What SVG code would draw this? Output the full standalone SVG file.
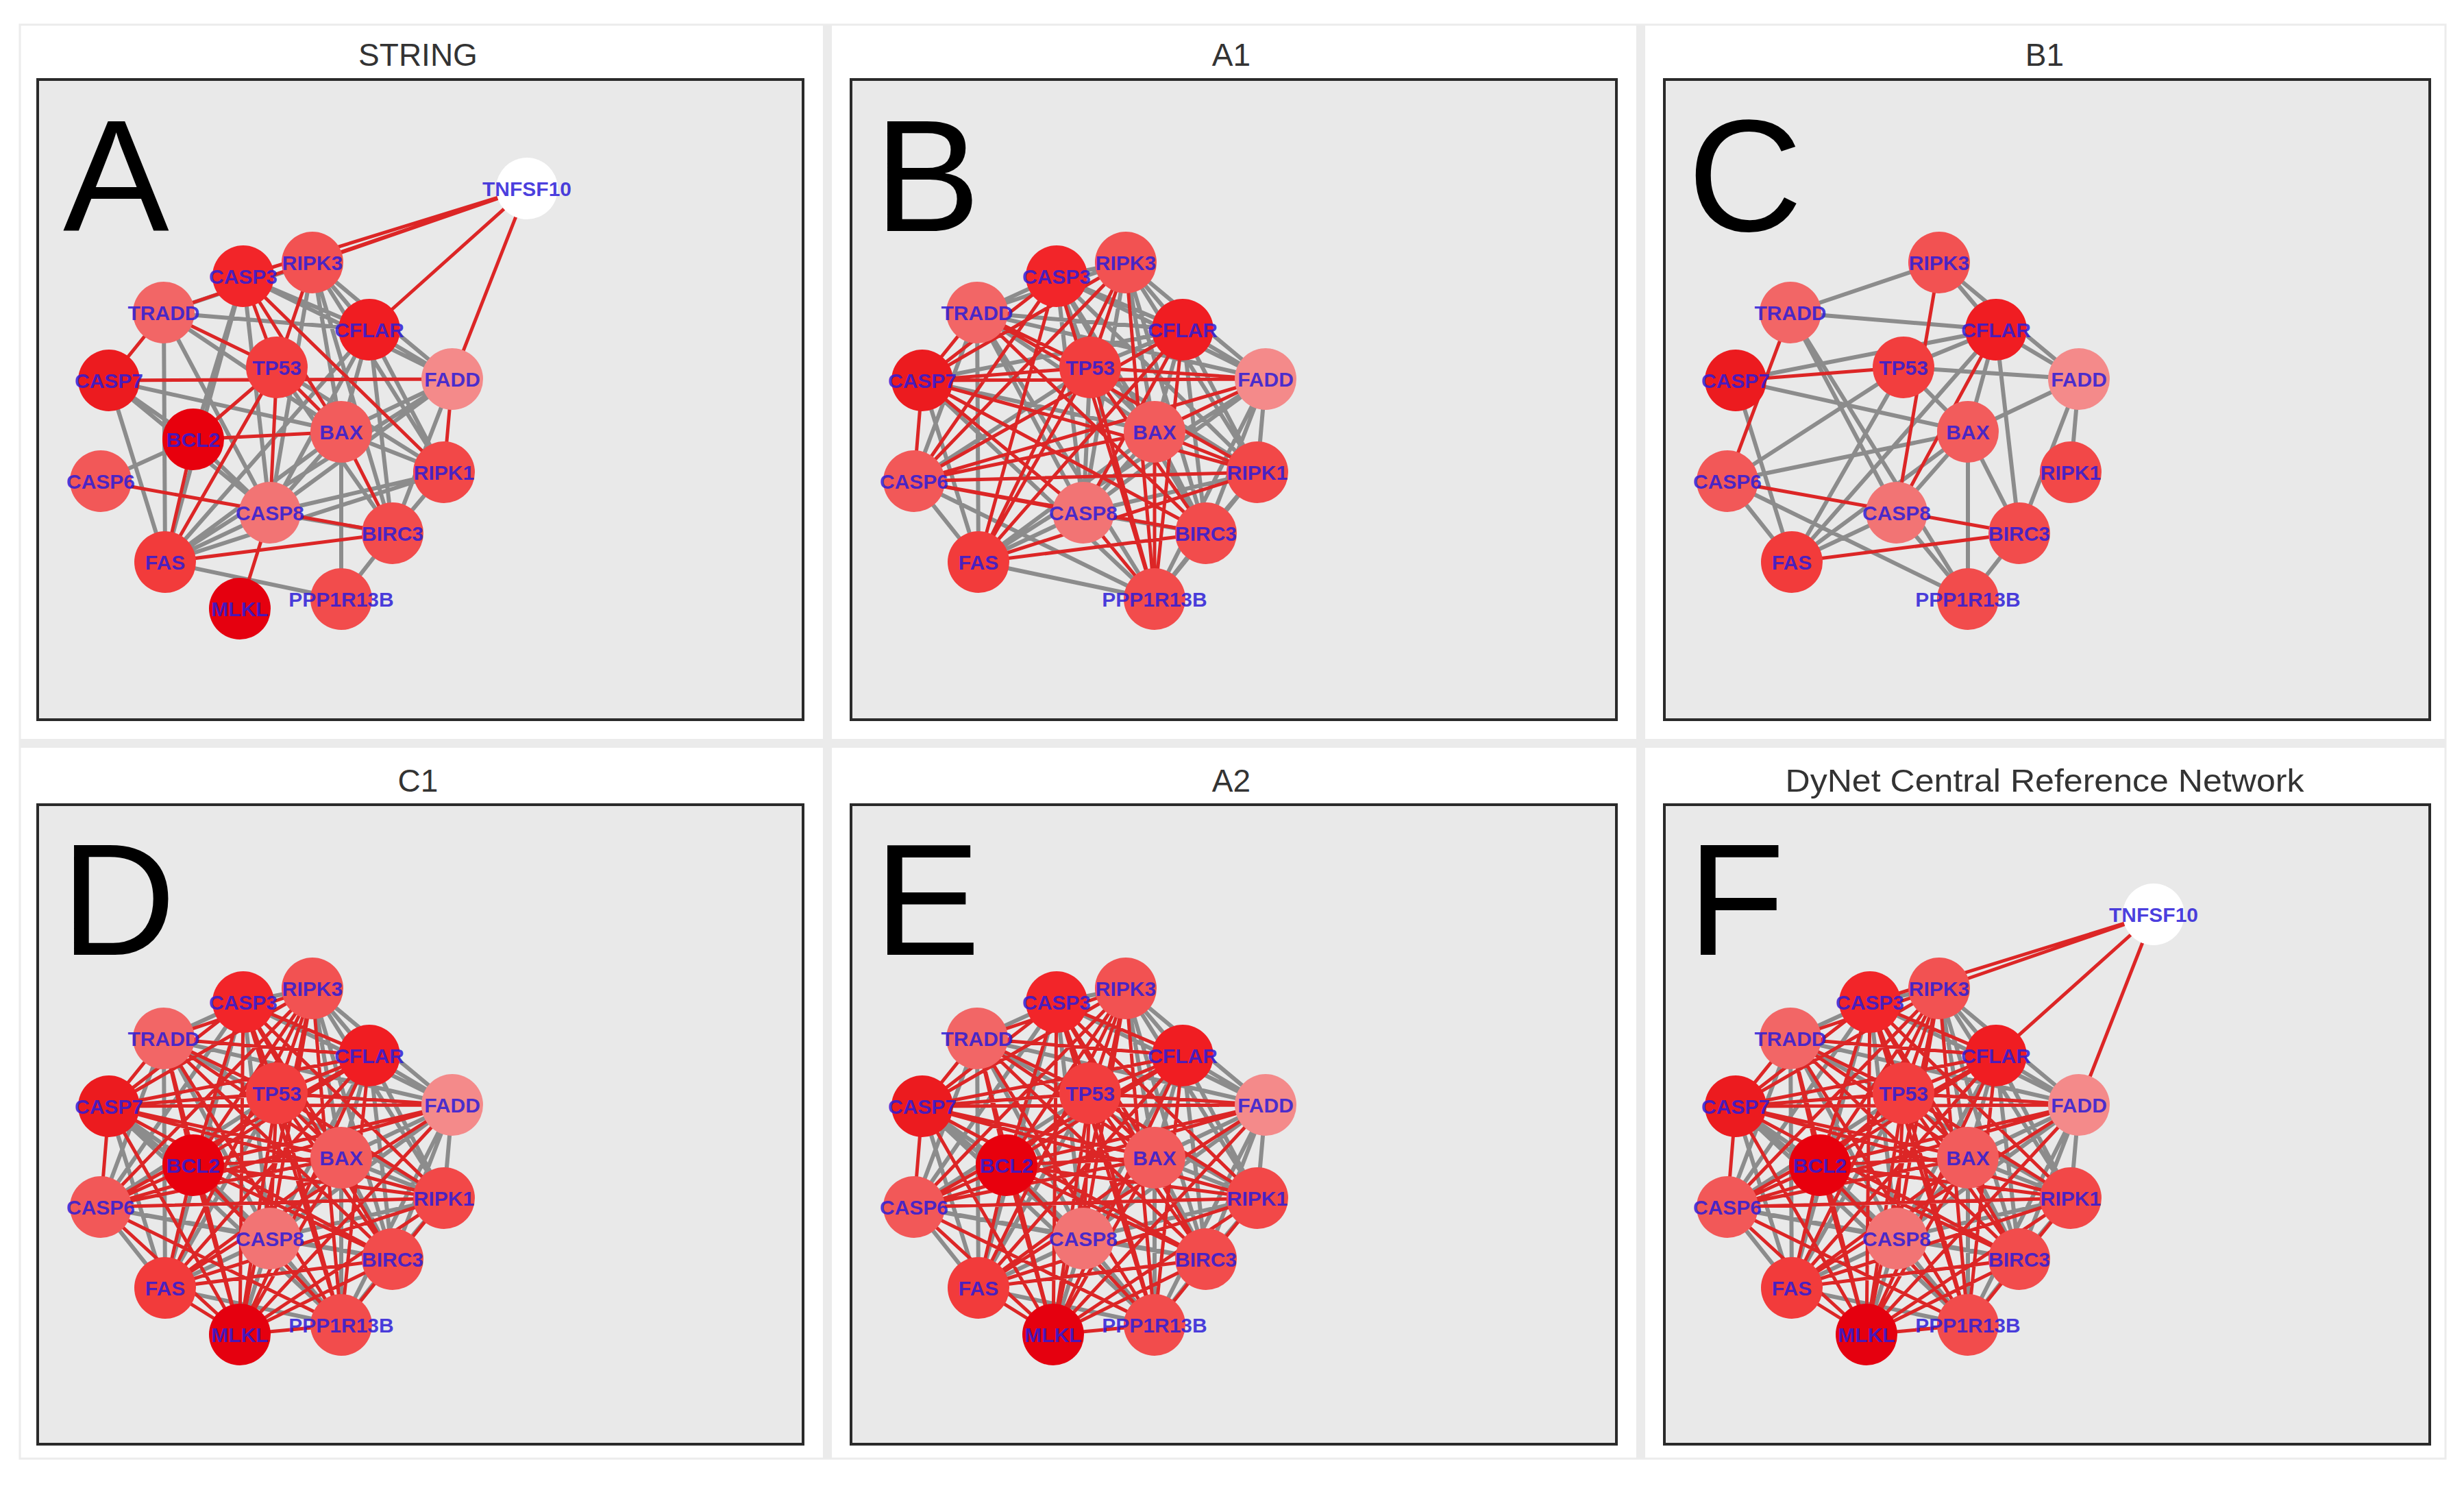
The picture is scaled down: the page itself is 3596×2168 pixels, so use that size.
<svg xmlns="http://www.w3.org/2000/svg" xmlns:xlink="http://www.w3.org/1999/xlink" width="3596" height="2168" viewBox="0 0 3596 2168">
<style>
.g{fill:none;stroke:#8c8c8c;stroke-width:6;stroke-linecap:round}
.r{fill:none;stroke:#dc2626;stroke-width:5;stroke-linecap:round}
.frame{fill:#e9e9e9;stroke:#2a2a2a;stroke-width:4}
.title{font-family:"Liberation Sans",Arial,sans-serif;font-size:46px;fill:#333;text-anchor:middle}
.big{font-family:"Liberation Sans",Arial,sans-serif;font-size:232px;fill:#000}
.lbl circle{r:45px}
.lbl text{font-family:"Liberation Sans",Arial,sans-serif;font-size:30px;font-weight:bold;fill:#2c1cd8;fill-opacity:.85;text-anchor:middle}
.tn{fill:#ffffff}.c3{fill:#f22529}.r3{fill:#f25252}.tr{fill:#f26666}.cf{fill:#f01d22}.p53{fill:#f23e3e}.c7{fill:#ec1b1f}.fa{fill:#f48a8a}.bc{fill:#e8000d}.bx{fill:#f25c5c}.c6{fill:#f25858}.r1{fill:#f24848}.c8{fill:#f27474}.bi{fill:#f24c4c}.fs{fill:#f23b3b}.ml{fill:#e5000f}.pp{fill:#f24c4c}
</style>
<defs>
<g id="dense-edges">
<path class="g" d="M355 403L456 383M355 403L239 456M355 403L660 553M355 403L147 702M355 403L394 748M355 403L241 820M456 383L539 481M456 383L660 553M456 383L498 630M456 383L648 689M456 383L573 778M239 456L660 553M239 456L147 702M239 456L648 689M239 456L394 748M239 456L241 820M539 481L660 553M539 481L498 630M539 481L648 689M539 481L394 748M539 481L573 778M404 536L147 702M404 536L241 820M159 555L394 748M159 555L241 820M159 555L498 874M660 553L498 630M660 553L648 689M660 553L394 748M660 553L573 778M660 553L498 874M498 630L648 689M498 630L394 748M498 630L573 778M498 630L498 874M147 702L394 748M147 702L573 778M147 702L241 820M648 689L394 748M648 689L573 778M394 748L573 778M394 748L241 820M394 748L498 874M573 778L498 874M241 820L498 874M282 641L159 555M282 641L394 748M350 888L394 748"/>
<path class="r" d="M355 403L539 481M355 403L404 536M355 403L159 555M355 403L498 630M355 403L648 689M355 403L573 778M355 403L498 874M456 383L239 456M456 383L404 536M456 383L159 555M456 383L147 702M456 383L394 748M456 383L241 820M456 383L498 874M239 456L539 481M239 456L404 536M239 456L159 555M239 456L498 630M239 456L573 778M239 456L498 874M539 481L404 536M539 481L159 555M539 481L147 702M539 481L241 820M539 481L498 874M404 536L159 555M404 536L660 553M404 536L498 630M404 536L648 689M404 536L394 748M404 536L573 778M404 536L498 874M159 555L660 553M159 555L498 630M159 555L147 702M159 555L648 689M159 555L573 778M660 553L147 702M660 553L241 820M498 630L147 702M498 630L241 820M147 702L648 689M147 702L498 874M648 689L241 820M648 689L498 874M573 778L241 820M282 641L355 403M282 641L456 383M282 641L239 456M282 641L539 481M282 641L404 536M282 641L660 553M282 641L498 630M282 641L147 702M282 641L648 689M282 641L573 778M282 641L241 820M282 641L498 874M282 641L350 888M350 888L355 403M350 888L456 383M350 888L239 456M350 888L539 481M350 888L404 536M350 888L159 555M350 888L660 553M350 888L498 630M350 888L147 702M350 888L648 689M350 888L573 778M350 888L241 820M350 888L498 874"/>
</g>
</defs>
<rect width="3596" height="2168" fill="#ffffff"/>
<g id="chrome">
<rect x="29" y="36" width="3540" height="2092" fill="none" stroke="#ececec" stroke-width="3"/>
<rect x="1201" y="36" width="13" height="2092" fill="#ebebeb"/>
<rect x="2388" y="36" width="13" height="2092" fill="#ebebeb"/>
<rect x="29" y="1078" width="3540" height="13" fill="#ebebeb"/>
<rect class="frame" x="55" y="116" width="1117" height="934"/>
<rect class="frame" x="1242" y="116" width="1117" height="934"/>
<rect class="frame" x="2429" y="116" width="1117" height="934"/>
<rect class="frame" x="55" y="1174" width="1117" height="933"/>
<rect class="frame" x="1242" y="1174" width="1117" height="933"/>
<rect class="frame" x="2429" y="1174" width="1117" height="933"/>
<text class="title" x="610" y="96">STRING</text>
<text class="title" x="1797" y="96">A1</text>
<text class="title" x="2984" y="96">B1</text>
<text class="title" x="610" y="1155">C1</text>
<text class="title" x="1797" y="1155">A2</text>
<text class="title" x="2984" y="1155" textLength="757" lengthAdjust="spacingAndGlyphs">DyNet Central Reference Network</text>
<text class="big" x="92" y="337">A</text>
<text class="big" x="1276" y="337">B</text>
<text class="big" x="2463" y="337">C</text>
<text class="big" x="89" y="1393">D</text>
<text class="big" x="1276" y="1393">E</text>
<text class="big" x="2463" y="1393">F</text>
</g>
<g id="connectors">
<g id="edges-A">
<path class="g" d="M239 456L456 383M239 456L539 481M239 456L394 748M239 456L241 820M239 456L498 630M159 555L282 641M159 555L498 630M159 555L394 748M159 555L241 820M147 702L282 641M355 403L539 481M355 403L660 553M355 403L394 748M355 403L241 820M355 403L282 641M456 383L539 481M456 383L660 553M456 383L498 630M456 383L648 689M456 383L573 778M456 383L394 748M539 481L660 553M539 481L648 689M539 481L573 778M539 481L498 630M539 481L394 748M539 481L241 820M660 553L498 630M660 553L394 748M660 553L241 820M660 553L573 778M498 630L394 748M498 630L498 874M498 630L241 820M498 630L648 689M648 689L394 748M648 689L241 820M648 689L573 778M394 748L241 820M394 748L573 778M394 748L282 641M573 778L498 874M241 820L498 874M404 536L573 778M404 536L648 689"/>
<path class="r" d="M769 275L456 383M769 275L355 403M769 275L239 456M769 275L539 481M769 275L660 553M239 456L159 555M239 456L404 536M404 536L498 630M159 555L660 553M355 403L404 536M355 403L498 630M355 403L648 689M456 383L404 536M404 536L282 641M404 536L241 820M404 536L394 748M282 641L498 630M282 641L241 820M498 630L573 778M147 702L573 778M241 820L573 778M394 748L350 888M660 553L648 689"/>
</g>
<g id="edges-B" transform="translate(1187,0)">
<path class="g" d="M355 403L456 383M355 403L239 456M355 403L539 481M355 403L404 536M355 403L660 553M355 403L498 630M355 403L648 689M355 403L394 748M355 403L573 778M456 383L239 456M456 383L539 481M456 383L660 553M456 383L498 630M456 383L648 689M456 383L394 748M456 383L573 778M239 456L539 481M239 456L660 553M239 456L498 630M239 456L147 702M239 456L394 748M239 456L241 820M239 456L498 874M539 481L404 536M539 481L159 555M539 481L660 553M539 481L498 630M539 481L648 689M539 481L573 778M404 536L498 630M404 536L147 702M404 536L648 689M404 536L394 748M159 555L498 630M159 555L241 820M159 555L498 874M660 553L648 689M660 553L394 748M660 553L573 778M660 553L241 820M660 553L498 874M498 630L394 748M498 630L573 778M498 630L241 820M147 702L241 820M147 702L498 874M648 689L394 748M648 689L573 778M648 689L498 874M394 748L573 778M394 748L241 820M573 778L498 874M241 820L498 874"/>
<path class="r" d="M355 403L159 555M355 403L147 702M355 403L241 820M355 403L498 874M456 383L404 536M456 383L159 555M456 383L147 702M456 383L241 820M456 383L498 874M239 456L404 536M239 456L159 555M239 456L648 689M239 456L573 778M539 481L147 702M539 481L394 748M539 481L241 820M539 481L498 874M404 536L159 555M404 536L660 553M404 536L573 778M404 536L241 820M404 536L498 874M159 555L660 553M159 555L147 702M159 555L648 689M159 555L394 748M159 555L573 778M660 553L498 630M660 553L147 702M498 630L147 702M498 630L648 689M498 630L498 874M147 702L648 689M147 702L394 748M147 702L573 778M648 689L241 820M394 748L498 874M573 778L241 820"/>
</g>
<g id="edges-C" transform="translate(2374,0)">
<path class="g" d="M456 383L239 456M456 383L539 481M456 383L660 553M239 456L539 481M239 456L394 748M239 456L498 874M159 555L539 481M159 555L498 630M159 555L241 820M147 702L404 536M147 702L498 630M147 702L241 820M147 702L498 874M241 820L404 536M241 820L498 630M241 820L539 481M241 820L394 748M404 536L539 481M404 536L498 630M404 536L660 553M539 481L660 553M539 481L573 778M539 481L498 630M660 553L498 630M660 553L648 689M660 553L573 778M498 630L573 778M498 630L498 874M498 630L394 748M394 748L498 874M573 778L498 874"/>
<path class="r" d="M456 383L394 748M239 456L147 702M159 555L404 536M147 702L573 778M241 820L573 778M539 481L394 748"/>
</g>
<use id="edges-D" xlink:href="#dense-edges" href="#dense-edges" transform="translate(0,1059)"/>
<use id="edges-E" xlink:href="#dense-edges" href="#dense-edges" transform="translate(1187,1059)"/>
<g id="edges-F" transform="translate(2374,1059)">
<use xlink:href="#dense-edges" href="#dense-edges"/>
<path class="r" d="M769 275L456 383M769 275L355 403M769 275L539 481M769 275L660 553"/>
</g>
</g>
<g id="nodes-A" class="lbl">
<g id="A-TNFSF10"><circle class="tn" cx="769" cy="275" r="45"/><text x="769" y="286">TNFSF10</text></g>
<g id="A-CASP3"><circle class="c3" cx="355" cy="403" r="45"/><text x="355" y="414">CASP3</text></g>
<g id="A-RIPK3"><circle class="r3" cx="456" cy="383" r="45"/><text x="456" y="394">RIPK3</text></g>
<g id="A-TRADD"><circle class="tr" cx="239" cy="456" r="45"/><text x="239" y="467">TRADD</text></g>
<g id="A-CFLAR"><circle class="cf" cx="539" cy="481" r="45"/><text x="539" y="492">CFLAR</text></g>
<g id="A-TP53"><circle class="p53" cx="404" cy="536" r="45"/><text x="404" y="547">TP53</text></g>
<g id="A-CASP7"><circle class="c7" cx="159" cy="555" r="45"/><text x="159" y="566">CASP7</text></g>
<g id="A-FADD"><circle class="fa" cx="660" cy="553" r="45"/><text x="660" y="564">FADD</text></g>
<g id="A-BCL2"><circle class="bc" cx="282" cy="641" r="45"/><text x="282" y="652">BCL2</text></g>
<g id="A-BAX"><circle class="bx" cx="498" cy="630" r="45"/><text x="498" y="641">BAX</text></g>
<g id="A-CASP6"><circle class="c6" cx="147" cy="702" r="45"/><text x="147" y="713">CASP6</text></g>
<g id="A-RIPK1"><circle class="r1" cx="648" cy="689" r="45"/><text x="648" y="700">RIPK1</text></g>
<g id="A-CASP8"><circle class="c8" cx="394" cy="748" r="45"/><text x="394" y="759">CASP8</text></g>
<g id="A-BIRC3"><circle class="bi" cx="573" cy="778" r="45"/><text x="573" y="789">BIRC3</text></g>
<g id="A-FAS"><circle class="fs" cx="241" cy="820" r="45"/><text x="241" y="831">FAS</text></g>
<g id="A-MLKL"><circle class="ml" cx="350" cy="888" r="45"/><text x="350" y="899">MLKL</text></g>
<g id="A-PPP1R13B"><circle class="pp" cx="498" cy="874" r="45"/><text x="498" y="885">PPP1R13B</text></g>
</g>
<g id="nodes-B" class="lbl" transform="translate(1187,0)">
<g id="B-CASP3"><circle class="c3" cx="355" cy="403" r="45"/><text x="355" y="414">CASP3</text></g>
<g id="B-RIPK3"><circle class="r3" cx="456" cy="383" r="45"/><text x="456" y="394">RIPK3</text></g>
<g id="B-TRADD"><circle class="tr" cx="239" cy="456" r="45"/><text x="239" y="467">TRADD</text></g>
<g id="B-CFLAR"><circle class="cf" cx="539" cy="481" r="45"/><text x="539" y="492">CFLAR</text></g>
<g id="B-TP53"><circle class="p53" cx="404" cy="536" r="45"/><text x="404" y="547">TP53</text></g>
<g id="B-CASP7"><circle class="c7" cx="159" cy="555" r="45"/><text x="159" y="566">CASP7</text></g>
<g id="B-FADD"><circle class="fa" cx="660" cy="553" r="45"/><text x="660" y="564">FADD</text></g>
<g id="B-BAX"><circle class="bx" cx="498" cy="630" r="45"/><text x="498" y="641">BAX</text></g>
<g id="B-CASP6"><circle class="c6" cx="147" cy="702" r="45"/><text x="147" y="713">CASP6</text></g>
<g id="B-RIPK1"><circle class="r1" cx="648" cy="689" r="45"/><text x="648" y="700">RIPK1</text></g>
<g id="B-CASP8"><circle class="c8" cx="394" cy="748" r="45"/><text x="394" y="759">CASP8</text></g>
<g id="B-BIRC3"><circle class="bi" cx="573" cy="778" r="45"/><text x="573" y="789">BIRC3</text></g>
<g id="B-FAS"><circle class="fs" cx="241" cy="820" r="45"/><text x="241" y="831">FAS</text></g>
<g id="B-PPP1R13B"><circle class="pp" cx="498" cy="874" r="45"/><text x="498" y="885">PPP1R13B</text></g>
</g>
<g id="nodes-C" class="lbl" transform="translate(2374,0)">
<g id="C-RIPK3"><circle class="r3" cx="456" cy="383" r="45"/><text x="456" y="394">RIPK3</text></g>
<g id="C-TRADD"><circle class="tr" cx="239" cy="456" r="45"/><text x="239" y="467">TRADD</text></g>
<g id="C-CFLAR"><circle class="cf" cx="539" cy="481" r="45"/><text x="539" y="492">CFLAR</text></g>
<g id="C-TP53"><circle class="p53" cx="404" cy="536" r="45"/><text x="404" y="547">TP53</text></g>
<g id="C-CASP7"><circle class="c7" cx="159" cy="555" r="45"/><text x="159" y="566">CASP7</text></g>
<g id="C-FADD"><circle class="fa" cx="660" cy="553" r="45"/><text x="660" y="564">FADD</text></g>
<g id="C-BAX"><circle class="bx" cx="498" cy="630" r="45"/><text x="498" y="641">BAX</text></g>
<g id="C-CASP6"><circle class="c6" cx="147" cy="702" r="45"/><text x="147" y="713">CASP6</text></g>
<g id="C-RIPK1"><circle class="r1" cx="648" cy="689" r="45"/><text x="648" y="700">RIPK1</text></g>
<g id="C-CASP8"><circle class="c8" cx="394" cy="748" r="45"/><text x="394" y="759">CASP8</text></g>
<g id="C-BIRC3"><circle class="bi" cx="573" cy="778" r="45"/><text x="573" y="789">BIRC3</text></g>
<g id="C-FAS"><circle class="fs" cx="241" cy="820" r="45"/><text x="241" y="831">FAS</text></g>
<g id="C-PPP1R13B"><circle class="pp" cx="498" cy="874" r="45"/><text x="498" y="885">PPP1R13B</text></g>
</g>
<g id="nodes-D" class="lbl" transform="translate(0,1059)">
<g id="D-CASP3"><circle class="c3" cx="355" cy="403" r="45"/><text x="355" y="414">CASP3</text></g>
<g id="D-RIPK3"><circle class="r3" cx="456" cy="383" r="45"/><text x="456" y="394">RIPK3</text></g>
<g id="D-TRADD"><circle class="tr" cx="239" cy="456" r="45"/><text x="239" y="467">TRADD</text></g>
<g id="D-CFLAR"><circle class="cf" cx="539" cy="481" r="45"/><text x="539" y="492">CFLAR</text></g>
<g id="D-TP53"><circle class="p53" cx="404" cy="536" r="45"/><text x="404" y="547">TP53</text></g>
<g id="D-CASP7"><circle class="c7" cx="159" cy="555" r="45"/><text x="159" y="566">CASP7</text></g>
<g id="D-FADD"><circle class="fa" cx="660" cy="553" r="45"/><text x="660" y="564">FADD</text></g>
<g id="D-BCL2"><circle class="bc" cx="282" cy="641" r="45"/><text x="282" y="652">BCL2</text></g>
<g id="D-BAX"><circle class="bx" cx="498" cy="630" r="45"/><text x="498" y="641">BAX</text></g>
<g id="D-CASP6"><circle class="c6" cx="147" cy="702" r="45"/><text x="147" y="713">CASP6</text></g>
<g id="D-RIPK1"><circle class="r1" cx="648" cy="689" r="45"/><text x="648" y="700">RIPK1</text></g>
<g id="D-CASP8"><circle class="c8" cx="394" cy="748" r="45"/><text x="394" y="759">CASP8</text></g>
<g id="D-BIRC3"><circle class="bi" cx="573" cy="778" r="45"/><text x="573" y="789">BIRC3</text></g>
<g id="D-FAS"><circle class="fs" cx="241" cy="820" r="45"/><text x="241" y="831">FAS</text></g>
<g id="D-MLKL"><circle class="ml" cx="350" cy="888" r="45"/><text x="350" y="899">MLKL</text></g>
<g id="D-PPP1R13B"><circle class="pp" cx="498" cy="874" r="45"/><text x="498" y="885">PPP1R13B</text></g>
</g>
<g id="nodes-E" class="lbl" transform="translate(1187,1059)">
<g id="E-CASP3"><circle class="c3" cx="355" cy="403" r="45"/><text x="355" y="414">CASP3</text></g>
<g id="E-RIPK3"><circle class="r3" cx="456" cy="383" r="45"/><text x="456" y="394">RIPK3</text></g>
<g id="E-TRADD"><circle class="tr" cx="239" cy="456" r="45"/><text x="239" y="467">TRADD</text></g>
<g id="E-CFLAR"><circle class="cf" cx="539" cy="481" r="45"/><text x="539" y="492">CFLAR</text></g>
<g id="E-TP53"><circle class="p53" cx="404" cy="536" r="45"/><text x="404" y="547">TP53</text></g>
<g id="E-CASP7"><circle class="c7" cx="159" cy="555" r="45"/><text x="159" y="566">CASP7</text></g>
<g id="E-FADD"><circle class="fa" cx="660" cy="553" r="45"/><text x="660" y="564">FADD</text></g>
<g id="E-BCL2"><circle class="bc" cx="282" cy="641" r="45"/><text x="282" y="652">BCL2</text></g>
<g id="E-BAX"><circle class="bx" cx="498" cy="630" r="45"/><text x="498" y="641">BAX</text></g>
<g id="E-CASP6"><circle class="c6" cx="147" cy="702" r="45"/><text x="147" y="713">CASP6</text></g>
<g id="E-RIPK1"><circle class="r1" cx="648" cy="689" r="45"/><text x="648" y="700">RIPK1</text></g>
<g id="E-CASP8"><circle class="c8" cx="394" cy="748" r="45"/><text x="394" y="759">CASP8</text></g>
<g id="E-BIRC3"><circle class="bi" cx="573" cy="778" r="45"/><text x="573" y="789">BIRC3</text></g>
<g id="E-FAS"><circle class="fs" cx="241" cy="820" r="45"/><text x="241" y="831">FAS</text></g>
<g id="E-MLKL"><circle class="ml" cx="350" cy="888" r="45"/><text x="350" y="899">MLKL</text></g>
<g id="E-PPP1R13B"><circle class="pp" cx="498" cy="874" r="45"/><text x="498" y="885">PPP1R13B</text></g>
</g>
<g id="nodes-F" class="lbl" transform="translate(2374,1059)">
<g id="F-TNFSF10"><circle class="tn" cx="769" cy="275" r="45"/><text x="769" y="286">TNFSF10</text></g>
<g id="F-CASP3"><circle class="c3" cx="355" cy="403" r="45"/><text x="355" y="414">CASP3</text></g>
<g id="F-RIPK3"><circle class="r3" cx="456" cy="383" r="45"/><text x="456" y="394">RIPK3</text></g>
<g id="F-TRADD"><circle class="tr" cx="239" cy="456" r="45"/><text x="239" y="467">TRADD</text></g>
<g id="F-CFLAR"><circle class="cf" cx="539" cy="481" r="45"/><text x="539" y="492">CFLAR</text></g>
<g id="F-TP53"><circle class="p53" cx="404" cy="536" r="45"/><text x="404" y="547">TP53</text></g>
<g id="F-CASP7"><circle class="c7" cx="159" cy="555" r="45"/><text x="159" y="566">CASP7</text></g>
<g id="F-FADD"><circle class="fa" cx="660" cy="553" r="45"/><text x="660" y="564">FADD</text></g>
<g id="F-BCL2"><circle class="bc" cx="282" cy="641" r="45"/><text x="282" y="652">BCL2</text></g>
<g id="F-BAX"><circle class="bx" cx="498" cy="630" r="45"/><text x="498" y="641">BAX</text></g>
<g id="F-CASP6"><circle class="c6" cx="147" cy="702" r="45"/><text x="147" y="713">CASP6</text></g>
<g id="F-RIPK1"><circle class="r1" cx="648" cy="689" r="45"/><text x="648" y="700">RIPK1</text></g>
<g id="F-CASP8"><circle class="c8" cx="394" cy="748" r="45"/><text x="394" y="759">CASP8</text></g>
<g id="F-BIRC3"><circle class="bi" cx="573" cy="778" r="45"/><text x="573" y="789">BIRC3</text></g>
<g id="F-FAS"><circle class="fs" cx="241" cy="820" r="45"/><text x="241" y="831">FAS</text></g>
<g id="F-MLKL"><circle class="ml" cx="350" cy="888" r="45"/><text x="350" y="899">MLKL</text></g>
<g id="F-PPP1R13B"><circle class="pp" cx="498" cy="874" r="45"/><text x="498" y="885">PPP1R13B</text></g>
</g>
</svg>
